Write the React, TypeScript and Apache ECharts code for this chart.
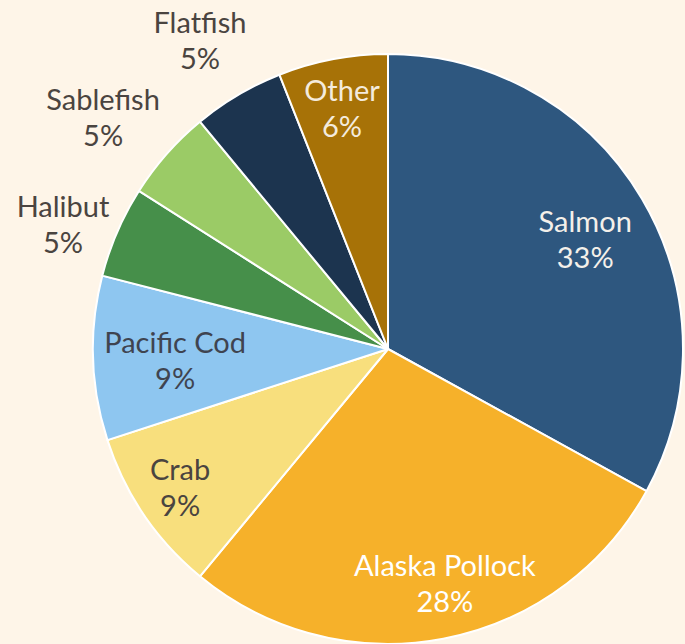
import React, { useEffect, useRef } from "react";
import * as echarts from "echarts";

const categories = ["Salmon", "Alaska Pollock", "Crab", "Pacific Cod", "Halibut", "Sablefish", "Flatfish", "Other"];
const shares = [33, 28, 9, 9, 5, 5, 5, 6];
const sliceColors = ["#2E577F", "#F6B12A", "#F8DF7D", "#8EC6F0", "#468F4A", "#9BCB66", "#1C344F", "#A77207"];
const labelColors = ["#F4F0EA", "#FFFFFF", "#4A4440", "#3F4450", "#4A4440", "#4A4440", "#4A4440", "#F4EBDD"];
// label placement: radius factor and angle offset (deg)
const labelRadius = [0.762, 0.826, 0.851, 0.723, 1.177, 1.241, 1.22, 0.825];
const labelAngle = [1.9, -2.7, 0.1, -1.7, -2.8, -2.5, -0.9, -0.1];

const CX = 388;
const CY = 349;
const R = 295;

export default function App() {
  const ref = useRef<HTMLDivElement>(null);
  useEffect(() => {
    document.body.style.margin = "0";
    const chart = echarts.init(ref.current!, null, { renderer: "svg" });
    const total = shares.reduce((a, b) => a + b, 0);
    const mids: number[] = [];
    let cum = 0;
    shares.forEach((v) => {
      mids.push(((cum + v / 2) / total) * 360);
      cum += v;
    });
    chart.setOption({
      animation: false,
      backgroundColor: "#FEF5E8",
      series: [
        {
          type: "pie",
          center: [CX, CY],
          radius: [0, R],
          startAngle: 90,
          clockwise: true,
          avoidLabelOverlap: false,
          itemStyle: { borderColor: "#FFFFFF", borderWidth: 2 },
          label: {
            show: true,
            position: "inside",
            formatter: "{b}\n{c}%",
            fontFamily: "Lato",
            fontSize: 29,
            lineHeight: 36,
            align: "center",
          },
          labelLine: { show: false },
          labelLayout: (params: any) => {
            const i = params.dataIndex;
            const a = ((mids[i] + labelAngle[i]) * Math.PI) / 180;
            const r = R * labelRadius[i];
            return { x: CX + r * Math.sin(a), y: CY - 3 - r * Math.cos(a), hideOverlap: false };
          },
          emphasis: { disabled: true },
          data: categories.map((name, i) => ({
            name,
            value: shares[i],
            itemStyle: { color: sliceColors[i] },
            label: { color: labelColors[i] },
          })),
        },
      ],
    });
    return () => chart.dispose();
  }, []);
  return <div ref={ref} style={{ width: 685, height: 644 }} />;
}
